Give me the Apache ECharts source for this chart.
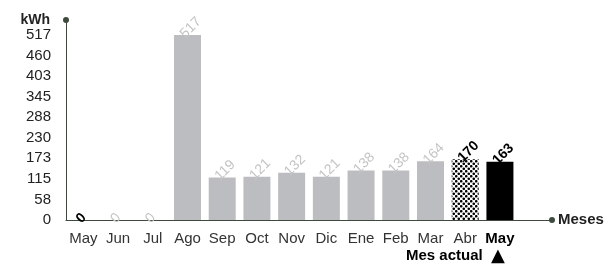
<!DOCTYPE html>
<html lang="es">
<head>
    <meta charset="UTF-8"/>
    <title>Consumo kWh</title>
    <script src="https://cdn.jsdelivr.net/npm/echarts@6/dist/echarts.min.js"></script>
    <style>
        html, body { margin: 0; padding: 0; background: #fff; }
    </style>
</head>
<body>
<div id="main" style="width: 615px;height:266px;"></div>
<script type="text/javascript">
    var months = ['May', 'Jun', 'Jul', 'Ago', 'Sep', 'Oct', 'Nov', 'Dic', 'Ene', 'Feb', 'Mar', 'Abr', 'May'];
    var kwh = [0, 0, 0, 517, 119, 121, 132, 121, 138, 138, 164, 170, 163];
    var yTickLabels = ['0', '58', '115', '173', '230', '288', '345', '403', '460', '517'];
    var yMaxTick = 517;

    var step = yMaxTick / (yTickLabels.length - 1);
    var font = 'Liberation Sans';

    // patrón de puntos para el mes anterior
    var dots = document.createElement('canvas');
    dots.width = 5;
    dots.height = 5;
    var ctx = dots.getContext('2d');
    ctx.fillStyle = '#fff';
    ctx.fillRect(0, 0, 5, 5);
    ctx.fillStyle = '#000';
    ctx.beginPath(); ctx.arc(1.25, 1.25, 1.3, 0, Math.PI * 2); ctx.fill();
    ctx.beginPath(); ctx.arc(3.75, 3.75, 1.3, 0, Math.PI * 2); ctx.fill();

    var last = months.length - 1;
    var barData = kwh.map(function (v, i) {
        var item = {value: v};
        if (i === last) {
            item.itemStyle = {color: '#000'};
        } else if (i === last - 1) {
            item.itemStyle = {color: {image: dots, repeat: 'repeat'}};
        }
        if (i === 0 || i >= last - 1) {
            item.label = {color: '#000', fontWeight: 'bold'};
        }
        return item;
    });

    var myChart = echarts.init(document.getElementById('main'));

    var option = {
        animation: false,
        grid: {left: 66, right: 63, top: 20, bottom: 46},
        xAxis: {
            type: 'category',
            data: months.concat(['']),
            name: 'Meses',
            nameLocation: 'end',
            nameGap: 6,
            nameTextStyle: {color: '#222', fontSize: 15, fontWeight: 'bold', fontFamily: font},
            axisLine: {lineStyle: {color: '#3f4a3f', width: 1}, symbol: ['none', 'circle'], symbolSize: [6, 6]},
            axisTick: {show: false},
            axisLabel: {
                interval: 0,
                margin: 11,
                color: '#333',
                fontSize: 15,
                fontFamily: font,
                formatter: function (v, i) {
                    return i === last ? '{b|' + v + '}' : v;
                },
                rich: {b: {fontWeight: 'bold', color: '#000', fontSize: 15, fontFamily: font}}
            }
        },
        yAxis: {
            type: 'value',
            min: 0,
            max: yMaxTick * 200 / 185,
            interval: step,
            name: 'kWh',
            nameLocation: 'end',
            nameGap: 0,
            nameTextStyle: {color: '#222', fontSize: 14, fontWeight: 'bold', align: 'right', verticalAlign: 'middle', padding: [0, 16, 0, 0], fontFamily: font},
            splitLine: {show: false},
            axisLine: {show: true, lineStyle: {color: '#3f4a3f', width: 1}, symbol: ['none', 'circle'], symbolSize: [6, 6]},
            axisTick: {show: false},
            axisLabel: {
                margin: 15,
                color: '#222',
                fontSize: 15,
                fontFamily: font,
                formatter: function (v) {
                    var k = Math.round(v / step);
                    return k < yTickLabels.length ? yTickLabels[k] : '';
                }
            }
        },
        graphic: [{
            type: 'text',
            left: 406,
            top: 248,
            style: {text: 'Mes actual', fontSize: 15, fontWeight: 'bold', fill: '#000', fontFamily: font}
        }, {
            type: 'text',
            left: 491,
            top: 247,
            style: {text: '▲', fontSize: 18, fill: '#000', fontFamily: 'DejaVu Sans'}
        }],
        series: [{
            type: 'bar',
            data: barData,
            barWidth: 27,
            itemStyle: {color: '#bcbdc1'},
            label: {
                show: true,
                position: 'top',
                rotate: 45,
                align: 'left',
                verticalAlign: 'middle',
                distance: 4,
                offset: [-7, 0],
                color: '#c4c4c4',
                fontSize: 14,
                fontFamily: font
            }
        }]
    };

    myChart.setOption(option);
</script>
</body>
</html>
